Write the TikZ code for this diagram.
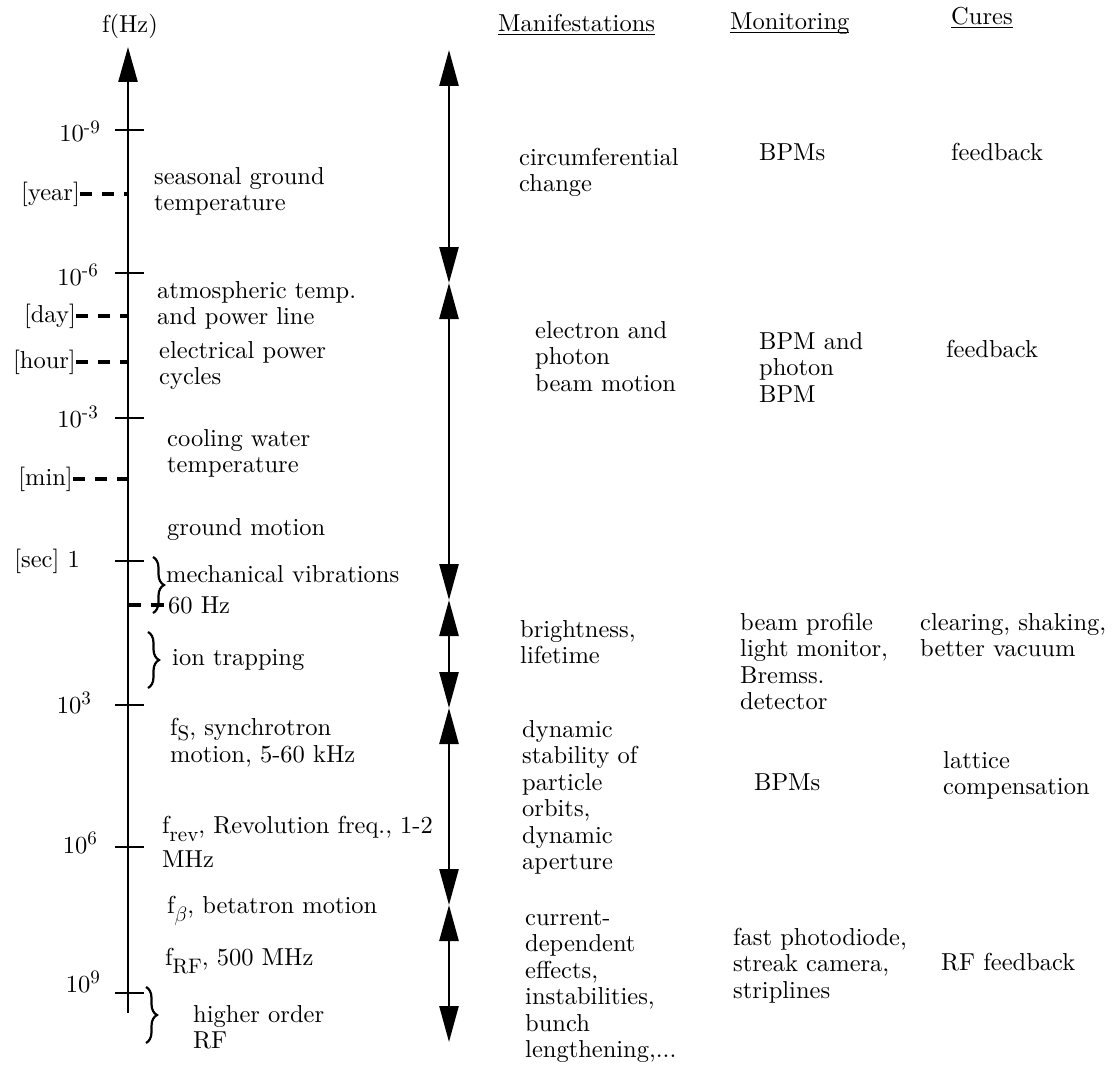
\documentclass[tikz,border=0pt]{standalone}
\usepackage{amsmath,amssymb}
\usepackage{fontspec}
\setmainfont{lmroman10-regular}[Extension=.otf]
\usepackage{xcolor}
\usepackage{tikz}
\usetikzlibrary{
  arrows.meta, positioning, calc,
  decorations.pathreplacing
}
%% raised exponent and lowered index, set in text font
\newcommand{\fexp}[1]{\raisebox{9pt}{\fontsize{19}{19}\selectfont #1}}
\newcommand{\fsub}[2][8pt]{\smash{\raisebox{-#1}{\fontsize{21}{21}\selectfont #2}}}
%% column heading with a rule just under the baseline
\newcommand{\hdrule}[1]{\setbox0\hbox{#1}\rlap{\rule[-3pt]{\wd0}{1.1pt}}#1}
\tikzset{
  %% -- frequency axis --
  FS/axis/.style={line width=2.6pt, -{Triangle[length=35pt, width=19pt]}},
  %% -- decade tick --
  FS/tick/.style={line width=2.6pt},
  %% -- dashed time-scale tick --
  FS/dtick/.style={line width=4pt, dash pattern=on 12pt off 10pt},
  %% -- range double arrow --
  FS/range/.style={line width=2.6pt,
    {Triangle[length=36pt, width=19pt]}-{Triangle[length=36pt, width=19pt]}},
  %% -- grouping brace --
  FS/brace/.style={line width=2.2pt, decorate, decoration={brace, amplitude=11pt}},
  %% -- text block (left aligned, placed by its last baseline) --
  FS/txt/.style={anchor=base west, inner sep=0pt, align=left,
    font=\fontsize{24.5}{26.5}\selectfont},
  %% -- axis value --
  FS/val/.style={anchor=base east, inner sep=0pt,
    font=\fontsize{24.5}{26.5}\selectfont},
}

\begin{document}
\begin{tikzpicture}[x=1pt, y=-1pt]

\useasboundingbox (0,0) rectangle (1112,1065);

%% ── Column x-positions ─────────────────────────────────────────────────────
\pgfmathsetmacro{\xAx}{128}   %% frequency axis
\pgfmathsetmacro{\xRg}{449}   %% range arrows

%% ── Frequency axis ─────────────────────────────────────────────────────────
\coordinate (A0) at (\xAx,1013);
\coordinate (A1) at (\xAx,47);
\draw[FS/axis] (A0) -- (A1);
\node[anchor=base, inner sep=0pt, font=\fontsize{24.5}{26.5}\selectfont]
  (fHz) at (130,33) {f(Hz)};

%% decade ticks
\foreach \y in {130, 273, 418, 561, 705, 847, 993}
  \draw[FS/tick] (\xAx-13,\y) -- (\xAx+16,\y);

\node[FS/val] (v9) at (100,142) {10\fexp{-9}};
\node[FS/val] (v6) at (98,285)  {10\fexp{-6}};
\node[FS/val] (v3) at (98,427)  {10\fexp{-3}};
\node[FS/val] (v0) at (80,567)  {[sec] 1};
\node[FS/val] (k3) at (91,713)  {10\fexp{3}};
\node[FS/val] (k6) at (97,853)  {10\fexp{6}};
\node[FS/val] (k9) at (100,992) {10\fexp{9}};

%% time-scale marks
\node[FS/val] (year) at (80,200) {[year]};
\node[FS/val] (day)  at (76,322) {[day]};
\node[FS/val] (hour) at (76,368) {[hour]};
\node[FS/val] (min)  at (73,485) {[min]};
\draw[FS/dtick] (year.east) -- (year.east -| A0);
\draw[FS/dtick] (day.east)  -- (day.east -| A0);
\draw[FS/dtick] (hour.east) -- (hour.east -| A0);
\draw[FS/dtick] (min.east)  -- (min.east -| A0);

%% ── Sources ────────────────────────────────────────────────────────────────
\node[FS/txt] (s1)  at (154,210.5) {seasonal ground\\temperature};
\node[FS/txt] (s2)  at (157,324.5) {atmospheric temp.\\and power line};
\node[FS/txt] (s3)  at (159,384.5) {electrical power\\cycles};
\node[FS/txt] (s4)  at (167,472.5) {cooling water\\temperature};
\node[FS/txt] (s5)  at (167,535)   {ground motion};
\node[FS/txt] (s6)  at (166,582)   {mechanical vibrations};
\node[FS/txt] (s7)  at (168,613)   {60 Hz};
\node[FS/txt] (s8)  at (172,665)   {ion trapping};
\node[FS/txt] (s9)  at (170,762.5) {f\fsub[5pt]{S}, synchrotron\\[1pt]motion, 5-60 kHz};
\node[FS/txt] (s10) at (162,867.5) {f\fsub{rev}, Revolution freq., 1-2\\[8pt]MHz};
\node[FS/txt] (s11) at (167,913)   {f\fsub{$\beta$}, betatron motion};
\node[FS/txt] (s12) at (165,965)   {f\fsub{RF}, 500 MHz};
\node[FS/txt] (s13) at (193,1048.5) {higher order\\RF};

\draw[FS/dtick, dash pattern=on 13pt off 10pt] (s7.west -| A0) -- (s7.west);

%% braces
\draw[FS/brace] (153,557) -- (153,613);
\draw[FS/brace] (148,632) -- (148,688);
\draw[FS/brace] (146,987) -- (146,1043);

%% ── Range arrows ───────────────────────────────────────────────────────────
\coordinate (r0) at (\xRg,50);
\coordinate (r1) at (\xRg,283);
\coordinate (r2) at (\xRg,600);
\coordinate (r3) at (\xRg,708);
\coordinate (r4) at (\xRg,905);
\coordinate (r5) at (\xRg,1042);
\draw[FS/range] (r0) -- (r1);
\draw[FS/range] (r1) -- (r2);
\draw[FS/range] (r2) -- (r3);
\draw[FS/range] (r3) -- (r4);
\draw[FS/range] (r4) -- (r5);

%% ── Manifestations ─────────────────────────────────────────────────────────
\node[FS/txt] (hMan) at (498,32) {\hdrule{Manifestations}};
\node[FS/txt] (m1) at (519,191.5) {circumferential\\change};
\node[FS/txt] (m2) at (535,391)   {electron and\\photon\\beam motion};
\node[FS/txt] (m3) at (520,663.5) {brightness,\\lifetime};
\node[FS/txt] (m4) at (522,869.5)
  {dynamic\\stability of\\particle\\orbits,\\dynamic\\aperture};
\node[FS/txt] (m5) at (525,1057.5)
  {current-\\dependent\\effects,\\instabilities,\\bunch\\lengthening,...};

%% ── Monitoring ─────────────────────────────────────────────────────────────
\node[FS/txt] (hMon) at (730,30) {\hdrule{Monitoring}};
\node[FS/txt] (n1) at (759,160)   {BPMs};
\node[FS/txt] (n2) at (759,402)   {BPM and\\photon\\BPM};
\node[FS/txt] (n3) at (740,709.5)
  {beam profile\\light monitor,\\Bremss.\\detector};
\node[FS/txt] (n4) at (754,790)   {BPMs};
\node[FS/txt] (n5) at (733,998)
  {fast photodiode,\\streak camera,\\striplines};

%% ── Cures ──────────────────────────────────────────────────────────────────
\node[FS/txt] (hCur) at (951,25)  {\hdrule{Cures}};
\node[FS/txt] (c1) at (951,160)   {feedback};
\node[FS/txt] (c2) at (946,357)   {feedback};
\node[FS/txt] (c3) at (920,656.5) {clearing, shaking,\\better vacuum};
\node[FS/txt] (c4) at (943,794.5) {lattice\\compensation};
\node[FS/txt] (c5) at (941,970)   {RF feedback};

\end{tikzpicture}
\end{document}
